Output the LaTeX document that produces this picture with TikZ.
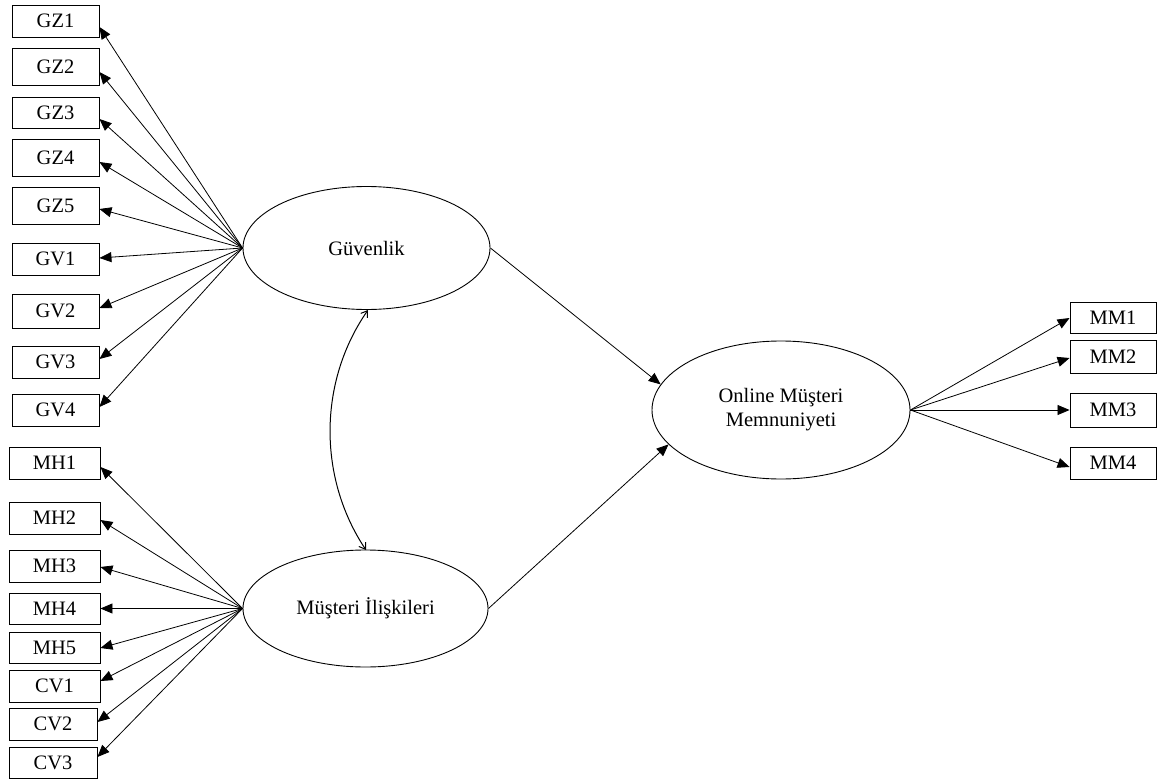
\documentclass[tikz,border=0pt]{standalone}
\usepackage{fontspec}
\setmainfont{Liberation Serif}
\usetikzlibrary{arrows.meta,shapes.geometric}
\begin{document}
\begin{tikzpicture}[x=1pt,y=-1pt,
  ind/.style={draw,line width=0.9pt,rectangle,inner sep=0pt,font=\fontsize{20.5}{24}\selectfont},
  lat/.style={draw,line width=0.9pt,ellipse,inner sep=0pt,align=center,font=\fontsize{20.5}{24}\selectfont},
  load/.style={line width=0.8pt,-{Triangle[length=12pt,width=10pt]}},
  cov/.style={line width=1pt,{Straight Barb[length=6pt,width=8pt]}-{Straight Barb[length=6pt,width=8pt]}}]
\useasboundingbox (0,0) rectangle (1157,781);
% latent variables
\node[lat,minimum width=247,minimum height=123] (gv) at (366.5,248) {Güvenlik};
\node[lat,minimum width=245,minimum height=117] (mi) at (365.5,608.5) {Müşteri İlişkileri};
\node[lat,minimum width=258,minimum height=138] (om) at (781,410) {Online Müşteri\\Memnuniyeti};
% Güvenlik indicators
\foreach \n/\t/\ya/\yb/\ty in {gza/GZ1/5/37/27, gzb/GZ2/48/85/72, gzc/GZ3/97/128/119, gzd/GZ4/139/176/162, gze/GZ5/187/224/209, gva/GV1/243/275/258, gvb/GV2/294/328/308, gvc/GV3/346/378/359, gvd/GV4/394/426/407}{
  \node[ind,minimum width=87,minimum height={\yb-\ya}] (\n) at (55.5,{(\ya+\yb)/2}) {\t};
  \draw[load] (gv.west) -- (\n.east |- 0,\ty);
}
% Müşteri İlişkileri indicators
\foreach \n/\t/\xa/\xb/\ya/\yb/\ty in {mha/MH1/9/100/447/479/467, mhb/MH2/9/100/502/534/520, mhc/MH3/9/100/550/582/567, mhd/MH4/9/100/593/624/608.5, mhe/MH5/9/100/632/663/648, cva/CV1/9/100/670/702/681, cvb/CV2/9/97/708/740/722, cvc/CV3/9/97/747/778/757}{
  \node[ind,minimum width={\xb-\xa},minimum height={\yb-\ya}] (\n) at ({(\xa+\xb)/2},{(\ya+\yb)/2}) {\t};
  \draw[load] (mi.west) -- (\n.east |- 0,\ty);
}
% Online Müşteri Memnuniyeti indicators
\foreach \n/\t/\ya/\yb/\ty in {mma/MM1/302/333/318, mmb/MM2/340/373/358, mmc/MM3/393/427/410, mmd/MM4/447/479/467}{
  \node[ind,minimum width=86,minimum height={\yb-\ya}] (\n) at (1113,{(\ya+\yb)/2}) {\t};
  \draw[load] (om.east) -- (\n.west |- 0,\ty);
}
% structural paths
\draw[load] (gv.east) -- (om.168);
\draw[load] (mi.east) -- (om.197);
% covariance
\coordinate (c1) at (368,310);
\coordinate (c2) at (366,550);
\draw[cov] (c1) .. controls (318,382) and (318,478) .. (c2);
\end{tikzpicture}
\end{document}
